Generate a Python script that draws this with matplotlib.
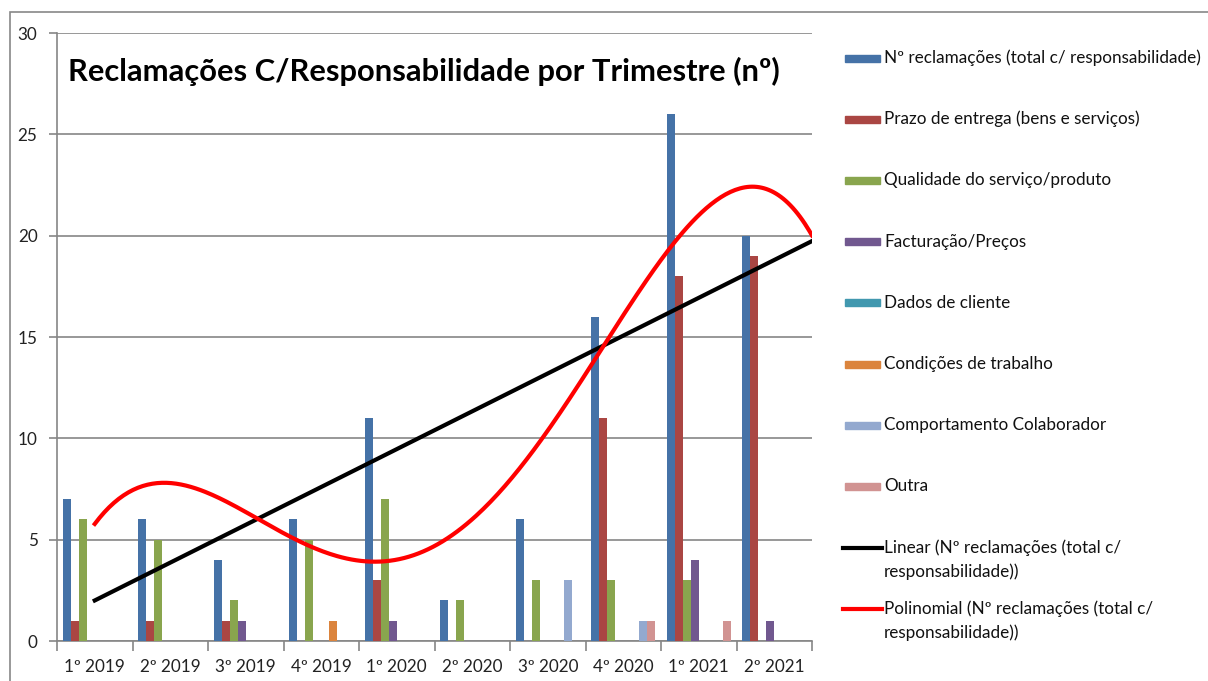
import matplotlib.pyplot as plt
import numpy as np
from matplotlib.patches import Rectangle
from matplotlib.lines import Line2D

plt.rcParams['font.family'] = ['Lato', 'DejaVu Sans']

quarters = ['1º 2019', '2º 2019', '3º 2019', '4º 2019', '1º 2020',
            '2º 2020', '3º 2020', '4º 2020', '1º 2021', '2º 2021']

total = [7, 6, 4, 6, 11, 2, 6, 16, 26, 20]
prazo = [1, 1, 1, 0, 3, 0, 0, 11, 18, 19]
qualidade = [6, 5, 2, 5, 7, 2, 3, 3, 3, 0]
facturacao = [0, 0, 1, 0, 1, 0, 0, 0, 4, 1]
dados = [0, 0, 0, 0, 0, 0, 0, 0, 0, 0]
condicoes = [0, 0, 0, 1, 0, 0, 0, 0, 0, 0]
comportamento = [0, 0, 0, 0, 0, 0, 3, 1, 0, 0]
outra = [0, 0, 0, 0, 0, 0, 0, 1, 1, 0]

series_names = ['Nº reclamações (total c/ responsabilidade)',
                'Prazo de entrega (bens e serviços)',
                'Qualidade do serviço/produto',
                'Facturação/Preços',
                'Dados de cliente',
                'Condições de trabalho',
                'Comportamento Colaborador',
                'Outra']
series = [total, prazo, qualidade, facturacao, dados, condicoes, comportamento, outra]
colors = ['#4572A7', '#AA4643', '#89A54E', '#71588F',
          '#4198AF', '#DB843D', '#93A9CF', '#D19392']
trend_labels = [('Linear (Nº reclamações (total c/', 'responsabilidade))'),
                ('Polinomial (Nº reclamações (total c/', 'responsabilidade))')]
trend_colors = ['black', '#FF0000']

W, H = 1208, 681
fig = plt.figure(figsize=(W / 100, H / 100), dpi=100)
ax = fig.add_axes([57 / W, 40 / H, 755 / W, 608 / H])

# outer chart frame
fig.patches.append(Rectangle((10 / W, -0.1), 1.2, 0.1 + 669 / H,
                             transform=fig.transFigure, fill=False,
                             edgecolor='#888888', linewidth=1.2))

x = np.arange(1, len(quarters) + 1)
bar_w = 0.106
offsets = (np.arange(len(series)) - (len(series) - 1) / 2) * bar_w
for vals, off, col in zip(series, offsets, colors):
    ax.bar(x + off, vals, width=bar_w, color=col, zorder=3)

# trendlines fitted on the totals
xs = np.linspace(1, 10.5, 300)
lin = np.polyfit(x, total, 1)
poly = np.polyfit(x, total, 4)
ax.plot(xs, np.polyval(lin, xs), color=trend_colors[0], lw=3, zorder=4)
ax.plot(xs, np.polyval(poly, xs), color=trend_colors[1], lw=3, zorder=4)

ax.set_xlim(0.5, 10.5)
ax.set_ylim(0, 30)
ax.set_yticks(range(0, 31, 5))
ax.yaxis.grid(True, color='#868686', lw=1.2, zorder=0)
ax.set_axisbelow(True)

ax.set_xticks(x)
ax.set_xticklabels(quarters)
ax.set_xticks(np.arange(0.5, 11, 1), minor=True)
ax.tick_params(axis='x', which='major', length=0, pad=13, labelsize=12.3, colors='#222222')
ax.tick_params(axis='x', which='minor', length=7, color='#868686', width=1.2)
ax.tick_params(axis='y', length=6, color='#868686', width=1.2, pad=8, labelsize=12.3,
               labelcolor='#222222')

for s in ['top', 'right']:
    ax.spines[s].set_visible(False)
for s in ['left', 'bottom']:
    ax.spines[s].set_color('#868686')
    ax.spines[s].set_linewidth(1.2)

ax.text(0.015, 0.96, 'Reclamações C/Responsabilidade por Trimestre (nº)',
        transform=ax.transAxes, fontsize=22.2, fontweight='bold', va='top', ha='left')

# legend, laid out like the Excel one (fixed pitch, first line aligned)
pitch = 61.2
for i, (name, col) in enumerate(zip(series_names, colors)):
    yc = 58 + pitch * i
    fig.patches.append(Rectangle((845 / W, 1 - (yc + 3.5) / H), 35 / W, 7 / H,
                                 transform=fig.transFigure, color=col))
    fig.text(884 / W, 1 - yc / H, name, fontsize=12.3, va='center', ha='left', color='#111111')
for j, ((l1, l2), col) in enumerate(zip(trend_labels, trend_colors)):
    yc = 58 + pitch * (len(series_names) + j)
    fig.lines.append(Line2D([843 / W, 882 / W], [1 - yc / H, 1 - yc / H],
                            transform=fig.transFigure, color=col, lw=3))
    fig.text(884 / W, 1 - yc / H, l1, fontsize=12.3, va='center', ha='left', color='#111111')
    fig.text(884 / W, 1 - (yc + 24) / H, l2, fontsize=12.3, va='center', ha='left',
             color='#111111')

fig.savefig('out.png', dpi=100)
